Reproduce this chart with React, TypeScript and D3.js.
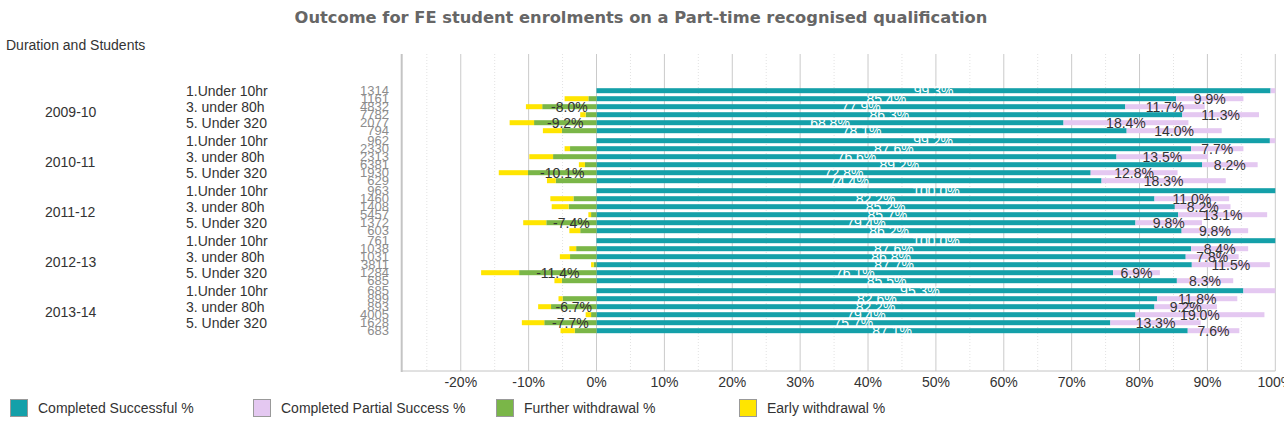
import React from "react";
import * as d3 from "d3";

const years = ["2009-10", "2010-11", "2011-12", "2012-13", "2013-14"];
const durations = ["1.Under 10hr", "2. under 40h", "3. under 80h", "4. under 160h", "5. Under 320", "6. Over 320"];
const shownDurations = [0, 2, 4];

const students = [
  1314, 1161, 4832, 7782, 2077, 794,
  962, 2330, 2313, 6381, 1930, 629,
  963, 1460, 1408, 5457, 1372, 603,
  761, 1038, 1031, 3811, 1284, 685,
  685, 899, 893, 4005, 1628, 683,
];
const successful = [
  99.3, 85.4, 77.9, 86.3, 68.8, 78.1,
  99.2, 87.6, 76.6, 89.2, 72.8, 74.4,
  100.0, 82.2, 85.2, 85.7, 79.4, 86.2,
  100.0, 87.6, 86.8, 87.7, 76.1, 85.5,
  95.3, 82.6, 82.2, 79.4, 75.7, 87.1,
];
const partial = [
  0.7, 9.9, 11.7, 11.3, 18.4, 14.0,
  0.8, 7.7, 13.5, 8.2, 12.8, 18.3,
  0.0, 11.0, 8.2, 13.1, 9.8, 9.8,
  0.0, 8.4, 7.8, 11.5, 6.9, 8.3,
  4.7, 11.8, 9.2, 19.0, 13.3, 7.6,
];
const further = [
  0.0, 1.2, 8.0, 1.6, 9.2, 5.1,
  0.0, 3.9, 6.4, 1.7, 10.1, 6.0,
  0.0, 3.4, 4.1, 0.8, 7.4, 2.4,
  0.0, 3.0, 3.9, 0.4, 11.4, 5.1,
  0.0, 5.0, 6.7, 0.8, 7.7, 3.2,
];
const early = [
  0.0, 3.5, 2.4, 0.8, 3.6, 2.8,
  0.0, 0.8, 3.5, 0.9, 4.3, 1.3,
  0.0, 3.4, 2.5, 0.4, 3.4, 1.6,
  0.0, 1.0, 1.5, 0.4, 5.6, 1.1,
  0.0, 0.6, 1.9, 0.8, 3.3, 2.1,
];
const seriesNames = ["Completed Successful %", "Completed Partial Success %", "Further withdrawal %", "Early withdrawal %"];
const seriesColors = ["#14a0a9", "#e4c8f1", "#7ab648", "#ffe500"];
const majorTicks = [-20, -10, 0, 10, 20, 30, 40, 50, 60, 70, 80, 90, 100];
const minorTicks = [-25, -15, -5, 5, 15, 25, 35, 45, 55, 65, 75, 85, 95];

const W = 1284;
const H = 425;
const FONT = "'Liberation Sans', Arial, sans-serif";

export default function App() {
  const x = d3.scaleLinear().domain([-28.7, 100]).range([401.7, 1275.3]);
  const yYear = d3.scaleBand<string>().domain(years).range([85.7, 335.7]);
  const yRow = d3.scaleBand<number>().domain(d3.range(6)).range([0, yYear.bandwidth()]).paddingOuter(0.125).paddingInner(0);
  const rowCenter = (i: number) => (yYear(years[Math.floor(i / 6)]) as number) + (yRow(i % 6) as number) + yRow.bandwidth() / 2;
  const barH = 5;
  const plotTop = 54;
  const plotBottom = 371;
  const fmt = (v: number) => v.toFixed(1) + "%";
  const threshold = 6.5;

  const rows = d3.range(years.length * 6);

  return (
    <div>
      <style>{`body{margin:0;}`}</style>
      <svg width={W} height={H} style={{ display: "block", overflow: "hidden" }} fontFamily={FONT}>
        <rect x={0} y={0} width={W} height={H} fill="#fff" />
        <text x={641} y={17} textAnchor="middle" dominantBaseline="central" fontFamily="'DejaVu Sans', Verdana, sans-serif" fontWeight="bold" fontSize={16.3} fill="#666">
          Outcome for FE student enrolments on a Part-time recognised qualification
        </text>
        <text x={6} y={45} dominantBaseline="central" fontSize={14} fill="#333">Duration and Students</text>

        {/* gridlines */}
        {minorTicks.map((t) => (
          <line key={"m" + t} x1={x(t)} x2={x(t)} y1={plotTop} y2={plotBottom} stroke="#e2e2e2" strokeDasharray="1,2" />
        ))}
        {majorTicks.map((t) => (
          <line key={"M" + t} x1={x(t)} x2={x(t)} y1={plotTop} y2={plotBottom} stroke="#cacaca" />
        ))}
        <line x1={401.7} x2={401.7} y1={plotTop} y2={plotBottom + 1} stroke="#c4c4c4" strokeWidth={2} />
        <line x1={401.7} x2={x(100)} y1={plotBottom} y2={plotBottom} stroke="#c4c4c4" />

        {/* bars */}
        {rows.map((i) => {
          const cy = rowCenter(i);
          const y0 = cy - barH / 2;
          const s = successful[i], p = partial[i], f = further[i], e = early[i];
          return (
            <g key={"r" + i}>
              {s > 0 && <rect x={x(0)} y={y0} width={x(s) - x(0)} height={barH} fill={seriesColors[0]} />}
              {p > 0 && <rect x={x(s)} y={y0} width={x(s + p) - x(s)} height={barH} fill={seriesColors[1]} />}
              {f > 0 && <rect x={x(-f)} y={y0} width={x(0) - x(-f)} height={barH} fill={seriesColors[2]} />}
              {e > 0 && <rect x={x(-f - e)} y={y0} width={x(-f) - x(-f - e)} height={barH} fill={seriesColors[3]} />}
            </g>
          );
        })}
        {/* labels */}
        {rows.map((i) => {
          const cy = rowCenter(i);
          const s = successful[i], p = partial[i], f = further[i];
          return (
            <g key={"l" + i} fontSize={14}>
              <text x={(x(0) + x(s)) / 2} y={cy} textAnchor="middle" dominantBaseline="central" fill="#fff">{fmt(s)}</text>
              {p >= threshold && (
                <text x={(x(s) + x(s + p)) / 2} y={cy} textAnchor="middle" dominantBaseline="central" fill="#333">{fmt(p)}</text>
              )}
              {f >= threshold && (
                <text x={(x(0) + x(-f)) / 2} y={cy} textAnchor="middle" dominantBaseline="central" fill="#333">{fmt(-f)}</text>
              )}
            </g>
          );
        })}

        {/* y axis labels */}
        {years.map((yr) => (
          <text key={yr} x={45} y={(yYear(yr) as number) + yYear.bandwidth() / 2 + 1} dominantBaseline="central" fontSize={14} fill="#333">{yr}</text>
        ))}
        {rows.filter((i) => shownDurations.includes(i % 6)).map((i) => (
          <text key={"d" + i} x={186} y={rowCenter(i)} dominantBaseline="central" fontSize={14} fill="#333">{durations[i % 6]}</text>
        ))}
        {rows.map((i) => (
          <text key={"c" + i} x={389} y={rowCenter(i)} textAnchor="end" dominantBaseline="central" fontSize={13} fill="#8c8c8c">{students[i]}</text>
        ))}

        {/* x tick labels */}
        {majorTicks.map((t) => (
          <text key={"t" + t} x={x(t)} y={382} textAnchor="middle" dominantBaseline="central" fontSize={14} fill="#333">{t + "%"}</text>
        ))}

        {/* legend */}
        {seriesNames.map((n, k) => (
          <g key={n} transform={`translate(${10 + k * 243},399)`}>
            <rect x={0.5} y={0.5} width={17} height={17} fill={seriesColors[k]} stroke="#999" />
            <text x={28} y={9} dominantBaseline="central" fontSize={14} fill="#333">{n}</text>
          </g>
        ))}
      </svg>
    </div>
  );
}
